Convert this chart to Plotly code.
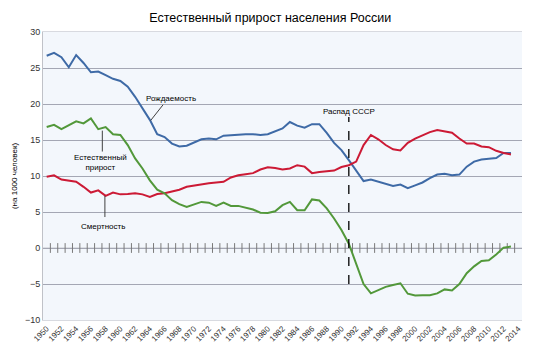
import plotly.graph_objects as go

years = list(range(1950, 2014))

birth = [26.7, 27.1, 26.5, 25.1, 26.8, 25.7, 24.4, 24.5, 24.0, 23.5,
         23.2, 22.4, 21.0, 19.4, 17.8, 15.8, 15.4, 14.5, 14.1, 14.2,
         14.6, 15.1, 15.2, 15.1, 15.6, 15.7, 15.8, 15.8, 15.8, 15.7,
         15.8, 16.2, 16.6, 17.5, 17.0, 16.7, 17.2, 17.2, 16.0, 14.6,
         13.6, 12.2, 10.7, 9.3, 9.5, 9.2, 8.9, 8.6, 8.8, 8.3,
         8.7, 9.1, 9.7, 10.2, 10.3, 10.1, 10.2, 11.3, 12.0, 12.3,
         12.4, 12.5, 13.2, 13.2]

death = [9.9, 10.1, 9.5, 9.3, 9.2, 8.5, 7.7, 8.0, 7.25, 7.7,
         7.45, 7.5, 7.6, 7.45, 7.1, 7.5, 7.6, 7.85, 8.1, 8.5,
         8.7, 8.8, 9.0, 9.1, 9.2, 9.8, 10.1, 10.25, 10.4, 10.9,
         11.2, 11.1, 10.9, 11.05, 11.5, 11.3, 10.4, 10.55, 10.7, 10.75,
         11.25, 11.5, 12.0, 14.3, 15.7, 15.1, 14.3, 13.7, 13.55, 14.6,
         15.2, 15.7, 16.1, 16.4, 16.2, 16.0, 15.2, 14.5, 14.5, 14.1,
         14.0, 13.5, 13.2, 13.0]

growth = [16.8, 17.1, 16.5, 17.0, 17.6, 17.3, 18.0, 16.5, 16.8, 15.8,
          15.7, 14.3, 12.45, 11.05, 9.4, 8.1, 7.6, 6.65, 6.1, 5.7,
          6.0, 6.4, 6.3, 5.85, 6.3, 5.85, 5.85, 5.55, 5.35, 4.9,
          4.85, 5.1, 5.95, 6.4, 5.25, 5.25, 6.75, 6.6, 5.5, 4.1,
          2.5, 0.6, -2.2, -5.0, -6.3, -5.8, -5.4, -5.15, -4.9, -6.35,
          -6.6, -6.55, -6.55, -6.3, -5.75, -5.9, -5.0, -3.5, -2.55, -1.8,
          -1.7, -0.9, 0.05, 0.2]

tick_years = list(range(1950, 2015, 2))
tick_labels = [str(y) for y in tick_years]

FONT = "Liberation Sans, Arial, sans-serif"

fig = go.Figure()

# zero line with year ticks
fig.add_shape(type="line", x0=1949.5, x1=2014.5, y0=0, y1=0,
              line=dict(color="#c4c6cc", width=1), layer="below")
fig.add_trace(go.Scatter(
    x=[y + 0.5 for y in years], y=[0] * len(years), mode="markers",
    marker=dict(symbol="line-ns", size=7, line=dict(color="#7a7a7a", width=1)),
    hoverinfo="skip", showlegend=False))

fig.add_trace(go.Scatter(x=years, y=birth, mode="lines",
                         line=dict(color="#3e6aa6", width=2), showlegend=False))
fig.add_trace(go.Scatter(x=years, y=death, mode="lines",
                         line=dict(color="#cc1a35", width=2), showlegend=False))
fig.add_trace(go.Scatter(x=years, y=growth, mode="lines",
                         line=dict(color="#52983a", width=2), showlegend=False))

# Dissolution of USSR
fig.add_shape(type="line", x0=1991, x1=1991, y0=-5, y1=18.2,
              line=dict(color="black", width=1.3, dash="dash"))
fig.add_annotation(x=1991, y=18.9, text="Распад СССР", showarrow=False,
                   font=dict(size=8, color="black", family=FONT))

# labels with leader lines
fig.add_annotation(x=1966.9, y=20.75, text="Рождаемость", showarrow=False,
                   font=dict(size=8, color="black", family=FONT))
fig.add_shape(type="line", x0=1965.8, y0=19.9, x1=1964.1, y1=17.7,
              line=dict(color="#404040", width=1))

fig.add_annotation(x=1957.3, y=11.9, text="Естественный<br>прирост", showarrow=False,
                   font=dict(size=8, color="black", family=FONT))
fig.add_shape(type="line", x0=1957.55, y0=16.3, x1=1957.55, y1=13.4,
              line=dict(color="#404040", width=1))

fig.add_annotation(x=1957.7, y=3.0, text="Смертность", showarrow=False,
                   font=dict(size=8, color="black", family=FONT))
fig.add_shape(type="line", x0=1957.9, y0=7.25, x1=1957.9, y1=4.3,
              line=dict(color="#404040", width=1))

fig.update_layout(
    width=535, height=350,
    margin=dict(l=43, r=13, t=32, b=30),
    paper_bgcolor="white",
    plot_bgcolor="#f3f7fc",
    font=dict(family=FONT, color="#333333"),
    title=dict(text="Естественный прирост населения России", x=0.505, xanchor="center",
               y=0.95, yanchor="middle",
               font=dict(size=12.5, color="black", family=FONT)),
    hovermode=False,
)
fig.update_xaxes(range=[1949.5, 2014.5], tickvals=tick_years, ticktext=tick_labels,
                 tickangle=-45, tickfont=dict(size=8, color="#333333"),
                 showgrid=False, zeroline=False, showline=True, linecolor="#d8dae0",
                 mirror=True, ticks="", automargin=False)
fig.update_yaxes(range=[-10, 30], dtick=5, showgrid=True, gridcolor="#a4a7b4",
                 gridwidth=1, zeroline=False, showline=True, linecolor="#c0c2c8",
                 tickfont=dict(size=9, color="#333333"), ticks="",
                 title=dict(text="(на 1000 человек)", standoff=6,
                            font=dict(size=8, color="black", family=FONT)),
                 automargin=False)

fig.write_html("out.html")
